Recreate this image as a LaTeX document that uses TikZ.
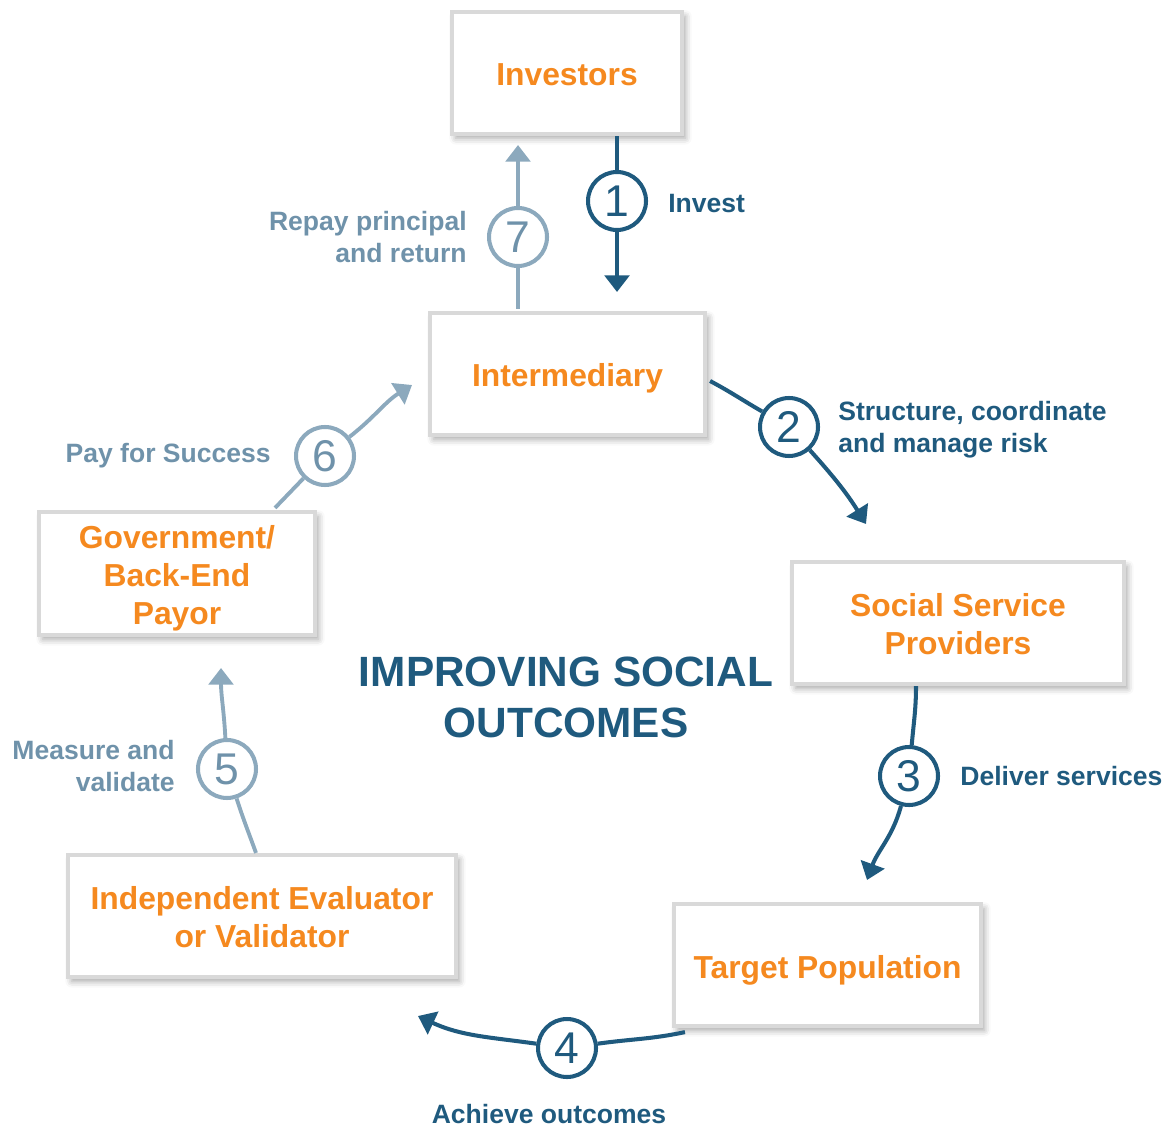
\documentclass[tikz,border=0pt]{standalone}
\usepackage{fontspec}
\setmainfont{Liberation Sans}
\usetikzlibrary{arrows.meta,shadows.blur}
\definecolor{navy}{HTML}{1F5A7E}
\definecolor{steel}{HTML}{8CA9BD}
\definecolor{steeltext}{HTML}{6F92AA}
\definecolor{accent}{HTML}{F5891F}
\definecolor{frame}{HTML}{D9D9D9}

\begin{document}
\begin{tikzpicture}[x=0.02cm,y=0.02cm,
  box/.style={draw=frame, line width=2.4pt, fill=white, inner sep=0pt,
    minimum height=2.44cm,
    blur shadow={shadow xshift=2pt, shadow yshift=-2.5pt,
      shadow blur radius=3.5pt, shadow opacity=35}},
  boxtext/.style={inner sep=0pt, align=center, text=accent,
    font=\fontsize{18.1}{21.5}\selectfont\bfseries},
  stepnum/.style={circle, line width=2.3pt, fill=white, inner sep=0pt,
    minimum size=1.16cm, font=\fontsize{25.3}{25.3}\selectfont},
  stepdark/.style={stepnum, draw=navy, text=navy},
  steplight/.style={stepnum, draw=steel, text=steeltext},
  lab/.style={inner sep=0pt, font=\fontsize{15.1}{18.1}\selectfont\bfseries},
  labdark/.style={lab, text=navy},
  lablight/.style={lab, text=steeltext},
  dk/.style={line width=2.3pt, draw=navy},
  lt/.style={line width=2.2pt, draw=steel},
  tip/.style={-{Triangle[width=14pt,length=9.5pt]}}
]
\useasboundingbox (0,0) rectangle (1165,1127);

% participant frames
\node[box, minimum width=4.60cm] (inv)   at (567,1054)   {};
\node[box, minimum width=5.50cm] (inter) at (567.5,753)  {};
\node[box, minimum width=6.64cm] (soc)   at (958,504)    {};
\node[box, minimum width=6.14cm] (tgt)   at (827.5,162)  {};
\node[box, minimum width=7.76cm] (ev)    at (262,211)    {};
\node[box, minimum width=5.52cm, minimum height=2.46cm] (gov) at (177,553.5) {};

% participant names
\node[boxtext] (invT)   at ([yshift=-1.1pt]inv.center)   {Investors};
\node[boxtext] (interT) at ([yshift=-2.3pt]inter.center) {Intermediary};
\node[boxtext] (socT)   at ([yshift=-0.6pt]soc.center)   {Social Service\\Providers};
\node[boxtext] (tgtT)   at ([yshift=-2.8pt]tgt.center)   {Target Population};
\node[boxtext] (evT)    at ([yshift=-0.6pt]ev.center)    {Independent Evaluator\\or Validator};
\node[boxtext] (govT)   at ([yshift=-2.8pt]gov.center)   {Government/\\Back-End\\Payor};

% centre title
\node[text=navy, align=center, inner sep=0pt,
  font=\fontsize{24.1}{29}\selectfont\bfseries] (title) at (566,430)
  {IMPROVING SOCIAL\\OUTCOMES};

% numbered steps
\node[stepdark]  (c1) at (617,926) {1};
\node[stepdark]  (c2) at (789,700) {2};
\node[stepdark]  (c3) at (909,351) {3};
\node[stepdark]  (c4) at (567,79)  {4};
\node[steplight] (c5) at (227,358) {5};
\node[steplight] (c6) at (325,671) {6};
\node[steplight] (c7) at (518,890) {7};

% arrow tips
\coordinate (t1) at (617,835);
\coordinate (t2) at (866,603);
\coordinate (t3) at (867,247);
\coordinate (t4) at (418,111);
\coordinate (t5) at (221,459);
\coordinate (t6) at (412,742);
\coordinate (t7) at (518,982);

% connectors
\draw[dk] (inv.south -| c1) -- (c1);
\draw[dk,tip] (c1) -- (t1);
\draw[dk] ([shift={(3,-7)}]inter.east) to[out=-28,in=150] (c2);
\draw[dk,tip] (c2) to[out=-48,in=122] (t2);
\draw[dk] ([shift={(-42,0)}]soc.south) to[out=-90,in=85] (c3);
\draw[dk,tip] (c3) to[out=-105,in=70] (t3);
\draw[dk] ([shift={(13,-4)}]tgt.south west) to[out=192,in=8] (c4);
\draw[dk,tip] (c4) to[out=172,in=-25] (t4);
\draw[lt] ([shift={(-6,0)}]ev.north) to[out=110,in=-72] (c5);
\draw[lt,tip] (c5) to[out=93,in=-90] (t5);
\draw[lt] ([shift={(98,2)}]gov.north) -- (c6);
\draw[lt,tip] (c6) to[out=38,in=-148] (t6);
\draw[lt] ([shift={(-49.5,2)}]inter.north) -- (c7);
\draw[lt,tip] (c7) -- (t7);

% step labels
\node[labdark, anchor=west] (l1) at (668,923) {Invest};
\node[labdark, anchor=west, align=left] (l2) at (838,697) {Structure, coordinate\\and manage risk};
\node[labdark, anchor=west] (l3) at (960,351) {Deliver services};
\node[labdark] (l4) at (549,13) {Achieve outcomes};
\node[lablight, anchor=east, align=right] (l5) at (175,361) {Measure and\\validate};
\node[lablight, anchor=east] (l6) at (271,671) {Pay for Success};
\node[lablight, anchor=east, align=right] (l7) at (467,890) {Repay principal\\and return};
\end{tikzpicture}
\end{document}
